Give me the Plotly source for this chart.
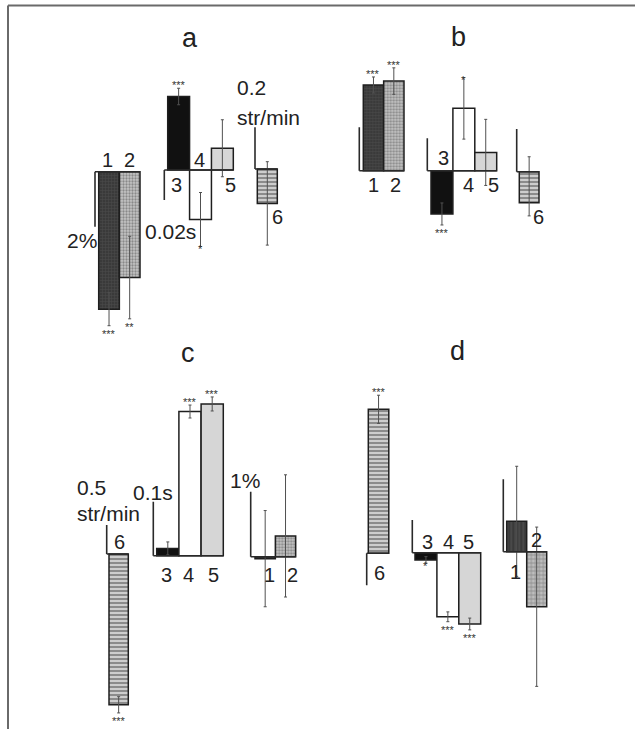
import plotly.graph_objects as go

W, H = 635, 729

# ---------------- data (values in the units of each scale bar) ----------------
# Panel a
a12_labels = ["1", "2"]
a12_values = [-5.0, -3.85]            # %
a12_err = [0.6, 1.5]
a12_stars = ["***", "**"]

a345_labels = ["3", "4", "5"]
a345_values = [0.049, -0.033, 0.0145]  # s
a345_err = [0.0055, 0.018, 0.019]
a345_stars = ["***", "*", ""]

a6_labels = ["6"]
a6_values = [-0.165]                  # str/min
a6_err = [0.20]
a6_stars = [""]

# Panel b
b12_labels = ["1", "2"]
b12_values = [3.95, 4.13]
b12_err = [0.37, 0.61]
b12_stars = ["***", "***"]

b345_labels = ["3", "4", "5"]
b345_values = [-0.0267, 0.0385, 0.0113]
b345_err = [0.0068, 0.019, 0.0204]
b345_stars = ["***", "*", ""]

b6_labels = ["6"]
b6_values = [-0.145]
b6_err_plus = [0.215]
b6_err_minus = [0.062]
b6_stars = [""]

# Panel c
c6_labels = ["6"]
c6_values = [-2.6]
c6_err = [0.14]
c6_stars = ["***"]

c345_labels = ["3", "4", "5"]
c345_values = [0.0135, 0.267, 0.281]
c345_err = [0.012, 0.012, 0.013]
c345_stars = ["", "***", "***"]

c12_labels = ["1", "2"]
c12_values = [-0.03, 0.32]
c12_err = [0.74, 0.94]
c12_stars = ["", ""]

# Panel d
d6_labels = ["6"]
d6_values = [2.25]
d6_err = [0.22]
d6_stars = ["***"]

d345_labels = ["3", "4", "5"]
d345_values = [-0.022, -0.196, -0.218]
d345_err = [0.010, 0.015, 0.018]
d345_stars = ["*", "***", "***"]

d12_labels = ["1", "2"]
d12_values = [0.42, -0.76]
d12_err = [0.76, 1.10]
d12_stars = ["", ""]

# scale bars (value in data units)
scale_a12, scale_a345, scale_a6 = -2.0, -0.02, 0.2
scale_b12, scale_b345, scale_b6 = 2.0, 0.02, 0.2
scale_c6, scale_c345, scale_c12 = 0.5, 0.1, 1.0
scale_d6, scale_d345, scale_d12 = -0.5, 0.1, 1.0

panel_titles = ["a", "b", "c", "d"]

# ---------------- styles ----------------
FONT = "Liberation Sans, Arial, sans-serif"
TXT = "#222222"
STYLE = {
    "1": dict(color="#3a3a3a", pattern=dict(shape="+", fgcolor="#5c5c5c", size=3, solidity=0.3, fillmode="overlay")),
    "2": dict(color="#c4c4c4", pattern=dict(shape=".", fgcolor="#4e4e4e", size=3, solidity=0.45, fillmode="overlay")),
    "3": dict(color="#111111"),
    "4": dict(color="#ffffff"),
    "5": dict(color="#d6d6d6"),
    "6": dict(color="#cdcdcd", pattern=dict(shape="-", fgcolor="#4a4a4a", size=4, solidity=0.5, fillmode="overlay")),
}
STYLE_D = {
    "1": dict(color="#3a3a3a", pattern=dict(shape="|", fgcolor="#6a6a6a", size=4, solidity=0.3, fillmode="overlay")),
    "2": dict(color="#bdbdbd", pattern=dict(shape="+", fgcolor="#555555", size=4, solidity=0.35, fillmode="overlay")),
}

TOP_DOM = (0, 345)
BOT_DOM = (345, 729)

# geometry per group (pixel placement only)
groups = [
    dict(dom=TOP_DOM, labels=a12_labels, values=a12_values, ep=a12_err, em=a12_err, stars=a12_stars,
         L=98.7, w=20.65, base=171.7, ppu=27.5, sx=95.0, sval=scale_a12,
         lab=[("b", -2, 11.7), ("b", 0, 11.7)]),
    dict(dom=TOP_DOM, labels=a345_labels, values=a345_values, ep=a345_err, em=a345_err, stars=a345_stars,
         L=167.7, w=21.87, base=170.0, ppu=1500.0, sx=164.3, sval=scale_a345,
         lab=[("b", -2.6, -15), ("b", -1, 10), ("b", 8.6, -15)]),
    dict(dom=TOP_DOM, labels=a6_labels, values=a6_values, ep=a6_err, em=a6_err, stars=a6_stars,
         L=257.3, w=20.0, base=169.0, ppu=208.5, sx=255.0, sval=scale_a6,
         lab=[("e", 10, -13.4)]),
    dict(dom=TOP_DOM, labels=b12_labels, values=b12_values, ep=b12_err, em=b12_err, stars=b12_stars,
         L=363.3, w=20.35, base=170.7, ppu=21.7, sx=359.3, sval=scale_b12,
         lab=[("b", 0, -14.3), ("b", 1.5, -14.3)]),
    dict(dom=TOP_DOM, labels=b345_labels, values=b345_values, ep=b345_err, em=b345_err, stars=b345_stars,
         L=431.0, w=21.9, base=170.7, ppu=1620.0, sx=427.3, sval=scale_b345,
         lab=[("b", 1.3, 12.4), ("b", 4.4, -14.3), ("b", 8.2, -14.3)]),
    dict(dom=TOP_DOM, labels=b6_labels, values=b6_values, ep=b6_err_plus, em=b6_err_minus, stars=b6_stars,
         L=519.3, w=19.7, base=171.7, ppu=213.5, sx=516.7, sval=scale_b6,
         lab=[("e", 9, -14)]),
    dict(dom=BOT_DOM, labels=c6_labels, values=c6_values, ep=c6_err, em=c6_err, stars=c6_stars,
         L=109.0, w=19.3, base=554.0, ppu=58.0, sx=106.7, sval=scale_c6,
         lab=[("b", 1.3, 12.3)]),
    dict(dom=BOT_DOM, labels=c345_labels, values=c345_values, ep=c345_err, em=c345_err, stars=c345_stars,
         L=156.7, w=22.2, base=555.7, ppu=540.0, sx=153.3, sval=scale_c345,
         lab=[("b", -1, -19.3), ("b", -1.7, -19.3), ("b", 1, -19.3)]),
    dict(dom=BOT_DOM, labels=c12_labels, values=c12_values, ep=c12_err, em=c12_err, stars=c12_stars,
         L=255.0, w=20.35, base=556.7, ppu=65.0, sx=250.7, sval=scale_c12,
         lab=[("b", 4.8, -18.3), ("b", 7.2, -18.3)]),
    dict(dom=BOT_DOM, labels=d6_labels, values=d6_values, ep=d6_err, em=d6_err, stars=d6_stars,
         L=368.3, w=20.5, base=553.3, ppu=64.0, sx=366.7, sval=scale_d6,
         lab=[("b", 0.8, -20)]),
    dict(dom=BOT_DOM, labels=d345_labels, values=d345_values, ep=d345_err, em=d345_err, stars=d345_stars,
         L=415.0, w=21.9, base=552.7, ppu=327.0, sx=412.3, sval=scale_d345,
         lab=[("b", 1.7, 11), ("b", 0.5, 11), ("b", -1.4, 11)]),
    dict(dom=BOT_DOM, labels=d12_labels, values=d12_values, ep=d12_err, em=d12_err, stars=d12_stars,
         L=506.7, w=20.0, base=551.7, ppu=72.4, sx=503.3, sval=scale_d12,
         lab=[("b", -1, -20), ("b", 0, 11.7)], style=STYLE_D),
]

fig = go.Figure()
layout_axes = {}
annotations = []
shapes = []

for k, g in enumerate(groups, start=1):
    sfx = "" if k == 1 else str(k)
    xa, ya = "x" + sfx, "y" + sfx
    n = len(g["values"])
    L, w = g["L"], g["w"]
    pad_l = (L - g["sx"]) + 6
    pad_r = 22
    x0px, x1px = L - pad_l, L + n * w + pad_r
    dtop, dbot = g["dom"]
    layout_axes["xaxis" + sfx] = dict(domain=[x0px / W, x1px / W],
                                      range=[-0.5 - pad_l / w, n - 0.5 + pad_r / w],
                                      visible=False, anchor=ya, fixedrange=True)
    layout_axes["yaxis" + sfx] = dict(domain=[1 - dbot / H, 1 - dtop / H],
                                      range=[-(dbot - g["base"]) / g["ppu"], (g["base"] - dtop) / g["ppu"]],
                                      visible=False, anchor=xa, fixedrange=True)
    style = dict(STYLE, **g.get("style", {}))
    for i, (lab, v) in enumerate(zip(g["labels"], g["values"])):
        st = style[lab]
        marker = dict(color=st["color"], line=dict(color="#1e1e1e", width=1.5))
        if "pattern" in st:
            marker["pattern"] = st["pattern"]
        fig.add_trace(go.Bar(
            x=[i], y=[v], width=[1], xaxis=xa, yaxis=ya, marker=marker,
            error_y=dict(type="data", symmetric=False, array=[g["ep"][i]], arrayminus=[g["em"][i]],
                         color="#505050", thickness=1, width=1.5),
            showlegend=False, hoverinfo="skip"))
        # number label
        anc, dx, dy = g["lab"][i]
        annotations.append(dict(xref=xa, yref=ya, x=i, y=(0 if anc == "b" else v), text=lab,
                                showarrow=False, xshift=dx, yshift=dy,
                                font=dict(family=FONT, size=20, color=TXT)))
        # significance stars
        s = g["stars"][i]
        if s:
            sign = 1 if v > 0 else -1
            tip = v + (g["ep"][i] if v > 0 else -g["em"][i])
            shift = (0 if s == "*" else 5.5) * sign - 2.5
            annotations.append(dict(xref=xa, yref=ya, x=i, y=tip, text=s, showarrow=False,
                                    yshift=shift, font=dict(family=FONT, size=11, color="#333")))
    xs = -0.5 - (L - g["sx"]) / w
    shapes.append(dict(type="line", xref=xa, yref=ya, x0=xs, x1=xs, y0=0, y1=g["sval"],
                       line=dict(color="#2a2a2a", width=1.6)))
    shapes.append(dict(type="line", xref=xa, yref=ya, x0=xs, x1=n - 0.5, y0=0, y1=0,
                       line=dict(color="#2a2a2a", width=1.6)))

# scale-bar captions (pixel placement)
def ptext(text, x, y, size=21, xanchor="center", yanchor="middle"):
    annotations.append(dict(xref="paper", yref="paper", x=x / W, y=1 - y / H, text=text,
                            showarrow=False, xanchor=xanchor, yanchor=yanchor,
                            font=dict(family=FONT, size=size, color=TXT)))

ptext("2%", 82, 240)
ptext("0.02s", 170, 232)
ptext("0.2", 251, 88)
ptext("str/min", 235, 117, xanchor="left")
ptext("0.5", 75, 487, xanchor="left")
ptext("str/min", 75, 513, xanchor="left")
ptext("0.1s", 153, 492)
ptext("1%", 245, 480)

# panel titles
for t, (x, y) in zip(panel_titles, [(190, 38), (458, 37), (188, 353), (457, 351)]):
    ptext(t, x, y, size=27)

# frame
shapes.append(dict(type="line", xref="paper", yref="paper", x0=8 / W, x1=1, y0=1 - 5.5 / H, y1=1 - 5.5 / H,
                   line=dict(color="#6a6a6a", width=2)))
shapes.append(dict(type="line", xref="paper", yref="paper", x0=8 / W, x1=8 / W, y0=0, y1=1 - 5.5 / H,
                   line=dict(color="#6a6a6a", width=2)))

fig.update_layout(
    width=W, height=H, margin=dict(l=0, r=0, t=0, b=0),
    paper_bgcolor="white", plot_bgcolor="rgba(0,0,0,0)",
    barmode="overlay", showlegend=False,
    annotations=annotations, shapes=shapes,
    **layout_axes,
)

fig.write_html("out.html", config={"displayModeBar": False, "staticPlot": True},
               post_script="document.body.style.margin='0px';document.body.style.overflow='hidden';")
